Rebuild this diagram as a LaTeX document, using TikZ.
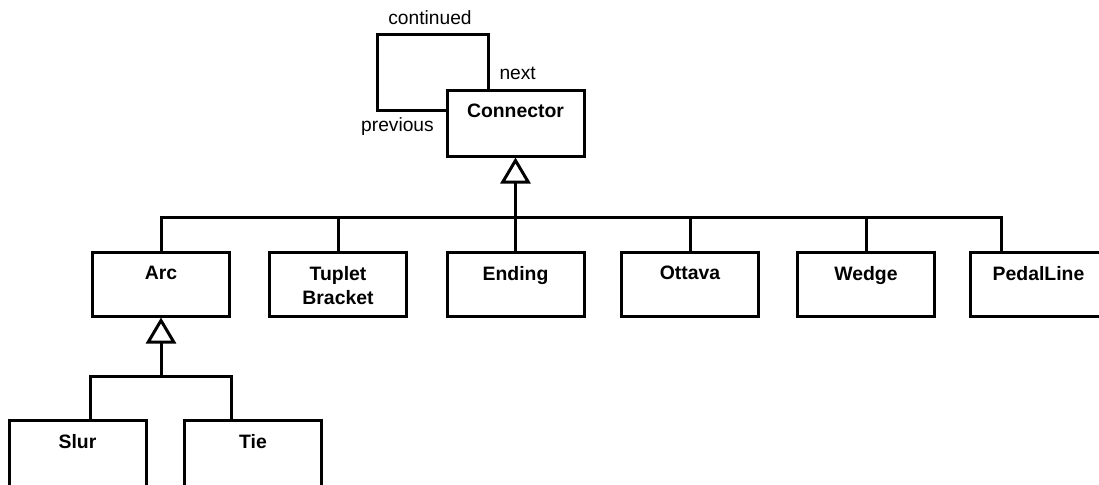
\documentclass[tikz,border=0pt]{standalone}
\usepackage{fontspec}
\setmainfont{Liberation Sans}
\usetikzlibrary{arrows.meta}
\begin{document}
\begin{tikzpicture}[x=0.5pt,y=-0.5pt,
  line width=1.5pt,
  cls/.style={draw, line width=1.5pt, minimum width=68.5pt, minimum height=32pt, inner sep=0pt},
  clsname/.style={anchor=north, inner sep=0pt, font=\fontsize{9.7pt}{12pt}\selectfont\bfseries, align=center},
  role/.style={inner sep=0pt, font=\fontsize{9.6pt}{11.5pt}\selectfont},
  inherit/.style={-{Triangle[open,length=13pt,width=15pt]}, line join=miter},
]
\useasboundingbox (0,0) rectangle (1099,484);
\clip (0,0) rectangle (1099,484);

% base class with its self association
\node[cls, minimum height=33pt] (conn) at (515.5,123) {};
\node[clsname] (conn-t) at ([yshift=-7pt]conn.north) {Connector};

\coordinate (loop-tr) at (488,34);
\coordinate (loop-bl) at (377,110);
\draw (loop-tr |- conn.north) -- (loop-tr) -| (loop-bl) -- (loop-bl -| conn.west);

\node[role] (lbl-cont) at (430,18) {continued};
\node[role, anchor=west] (lbl-next) at (498,73) {next};
\node[role] (lbl-prev) at (397.5,127) {previous};

% subclasses of Connector
\node[cls] (arc)   at (161,284)    {};
\node[cls] (tup)   at (338,284)    {};
\node[cls] (end)   at (515.5,284)  {};
\node[cls] (ott)   at (690,284)    {};
\node[cls] (wed)   at (866,284)    {};
\node[cls] (pedal) at (1038.5,284) {};

\node[clsname] (arc-t)   at ([yshift=-7pt]arc.north)   {Arc};
\node[clsname] (tup-t)   at ([yshift=-7pt]tup.north)   {Tuplet\\Bracket};
\node[clsname] (end-t)   at ([yshift=-7pt]end.north)   {Ending};
\node[clsname] (ott-t)   at ([yshift=-7pt]ott.north)   {Ottava};
\node[clsname] (wed-t)   at ([yshift=-7pt]wed.north)   {Wedge};
\node[clsname] (pedal-t) at ([yshift=-7pt]pedal.north) {PedalLine};

% subclasses of Arc
\node[cls, minimum height=40pt] (slur) at (77.5,460) {};
\node[cls, minimum height=40pt] (tie)  at (253,460)  {};
\node[clsname] (slur-t) at ([yshift=-7pt]slur.north) {Slur};
\node[clsname] (tie-t)  at ([yshift=-7pt]tie.north)  {Tie};

% generalization trees
\coordinate (hub) at (515.5,217);
\draw (arc.north) |- (hub) -| ([xshift=-18.75pt]pedal.north);
\foreach \c in {tup,ott,wed} \draw (\c.north) -- (\c.north |- hub);
\draw (end.north) -- (hub);
\draw[inherit] (hub) -- (conn.south);

\coordinate (arc-hub) at (161,376);
\draw ([xshift=6.25pt]slur.north) |- (arc-hub) -| ([xshift=-11pt]tie.north);
\draw[inherit] (arc-hub) -- (arc.south);
\end{tikzpicture}
\end{document}
